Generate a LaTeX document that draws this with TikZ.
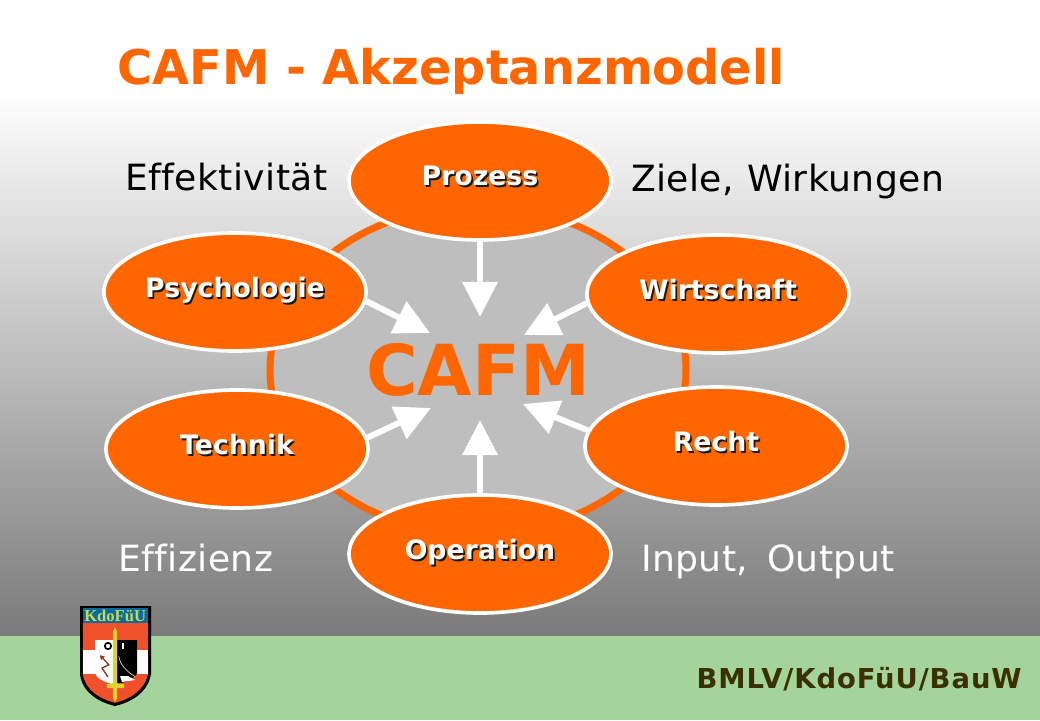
\documentclass[tikz,border=0pt]{standalone}
\usepackage{fontspec}
\setmainfont[Ligatures=NoCommon]{DejaVu Sans}
\newfontfamily\crestfont{Liberation Serif}
\newfontfamily\spacedfont[LetterSpace=3.4]{DejaVu Sans}
\newfontfamily\notefont[Ligatures=NoCommon,WordSpace=1.1,LetterSpace=1.2]{DejaVu Sans}
\usetikzlibrary{arrows.meta,shapes.geometric}
\definecolor{cafmorange}{HTML}{FF6600}
\definecolor{cafmgreen}{HTML}{A4D49C}
\definecolor{ringgray}{HTML}{BEBEBE}
\definecolor{crestred}{HTML}{F0502A}
\definecolor{crestblue}{HTML}{0B6A9E}
\definecolor{crestyellow}{HTML}{C9D84E}
\definecolor{swordyellow}{HTML}{E0D030}
\definecolor{footerbrown}{HTML}{3A3000}
\newcommand{\lbl}[1]{\raisebox{6.8pt}{\rlap{\hspace{1.2pt}\raisebox{-1.2pt}{\color{black!90}#1}}#1}}
\tikzset{
	topic/.style={ellipse,draw=white,line width=2.6pt,fill=cafmorange,text=white,font=\fontsize{19}{21}\bfseries,minimum width=6.55cm,minimum height=2.95cm,inner sep=0pt},
	note/.style={anchor=base west,inner sep=0pt,text=black,font=\notefont\fontsize{25.7}{28}\selectfont},
	pfeil/.style={draw=white,line width=4.2pt,-{Triangle[length=0.88cm,width=0.86cm]}}
}
\begin{document}
\begin{tikzpicture}
	\useasboundingbox (0,0) rectangle (26,18);
	
	% background
	\fill[white] (0,15.75) rectangle (26,18);
	\shade[top color=white,bottom color=black!52,shading angle=0] (0,2.1) rectangle (26,15.75);
	\fill[cafmgreen] (0,0) rectangle (26,2.1);
	
	\node[anchor=west,inner sep=0pt,text=cafmorange,font=\fontsize{34}{36}\bfseries] (titel) at (2.93,16.22) {CAFM - Akzeptanzmodell};
	
	% ring with the word in the middle
	\draw[cafmorange,fill=ringgray,line width=5pt] (11.95,8.75) ellipse (5.2cm and 4.1cm);
	\node[text=cafmorange,font=\fontsize{50}{54}\bfseries,inner sep=0pt] (cafm) at (11.95,8.75) {CAFM};
	
	\node[topic] (prozess) at (12,13.475) {\lbl{Prozess}};
	\node[topic] (psychologie) at (5.875,10.7) {\lbl{Psychologie}};
	\node[topic] (wirtschaft) at (17.95,10.65) {\lbl{Wirtschaft}};
	\node[topic] (technik) at (5.925,6.775) {\lbl{Technik}};
	\node[topic] (recht) at (17.9,6.85) {\lbl{Recht}};
	\node[topic] (operation) at (12,4.15) {\lbl{Operation}};
	
	\coordinate (prozessend) at (12,10.075);
	\coordinate (psychologieend) at (10.75,9.675);
	\coordinate (wirtschaftend) at (13.1,9.625);
	\coordinate (technikend) at (10.775,7.8);
	\coordinate (rechtend) at (13.075,7.9);
	\coordinate (operationend) at (12,7.5);
	
	\draw[pfeil] (prozess) -- (prozessend);
	\draw[pfeil] (psychologie.-4) -- (psychologieend);
	\draw[pfeil] (wirtschaft.184) -- (wirtschaftend);
	\draw[pfeil] (technik.5) -- (technikend);
	\draw[pfeil] (recht.173) -- (rechtend);
	\draw[pfeil] (operation) -- (operationend);
	
	\node[note] (effekt) at (3.125,13.225) {Effektivität};
	\node[note] (ziele) at (15.77,13.2) {Ziele, Wirkungen};
	\node[note,text=white] (effiz) at (2.95,3.725) {Effizienz};
	\node[note,text=white] (input) at (16.02,3.725) {Input, \hspace{4pt}Output};
	
	\node[anchor=east,inner sep=0pt,text=footerbrown,font=\spacedfont\fontsize{19.5}{21}\bfseries] (bmlv) at (25.55,1.02) {BMLV/KdoFüU/BauW};
	
	% crest
	\fill[black] (2,2.85) -- (3.775,2.85) -- (3.775,1.15) .. controls (3.7,0.7) and (3.3,0.45) .. (2.875,0.35) .. controls (2.45,0.45) and (2.05,0.7) .. (2,1.15) -- cycle;
	\fill[crestred] (2.07,2.42) -- (3.7,2.42) -- (3.7,1.15) .. controls (3.62,0.75) and (3.25,0.52) .. (2.875,0.43) .. controls (2.5,0.52) and (2.13,0.75) .. (2.07,1.15) -- cycle;
	\fill[white] (2.07,1.75) rectangle (3.7,1.15);
	\fill[white] (2.375,2) -- (2.875,2) -- (2.875,0.875) .. controls (2.6,0.95) and (2.4,1.05) .. (2.375,1.175) -- cycle;
	\fill[black] (2.875,2) -- (3.425,2) -- (3.425,1.175) .. controls (3.4,1.05) and (3.15,0.95) .. (2.875,0.875) -- cycle;
	\draw[black,line width=1.2pt] (2.7,1.85) circle (0.08cm);
	\fill[white] (3.05,1.775) rectangle (3.1,1.925);
	\fill[white] (3.0,1.1) -- (3.2,1.1) -- (3.38,1.0) -- (3.05,0.95) -- cycle;
	\draw[white,line width=0.4pt] (2.97,1.6) .. controls (3,1.35) and (3.2,1.2) .. (3.38,1.08);
	\draw[crestred!60!black,line width=0.9pt,-{Triangle[length=3pt,width=3.5pt]}] (2.7,1.075) -- (2.55,1.3) -- (2.72,1.38) -- (2.5,1.62);
	\fill[crestblue] (2.07,2.42) rectangle (3.7,2.8);
	\node[text=crestyellow,font=\crestfont\fontsize{11.8}{12}\bfseries,inner sep=0pt] (kdofue) at (2.88,2.6) {KdoFüU};
	\fill[swordyellow] (2.82,2.2) -- (2.875,2.325) -- (2.93,2.2) -- (2.93,0.92) -- (3.1,0.9) -- (3.1,0.8) -- (2.93,0.8) -- (2.93,0.55) -- (2.875,0.45) -- (2.82,0.55) -- (2.82,0.8) -- (2.67,0.8) -- (2.67,0.9) -- (2.82,0.92) -- cycle;
\end{tikzpicture}
\end{document}
